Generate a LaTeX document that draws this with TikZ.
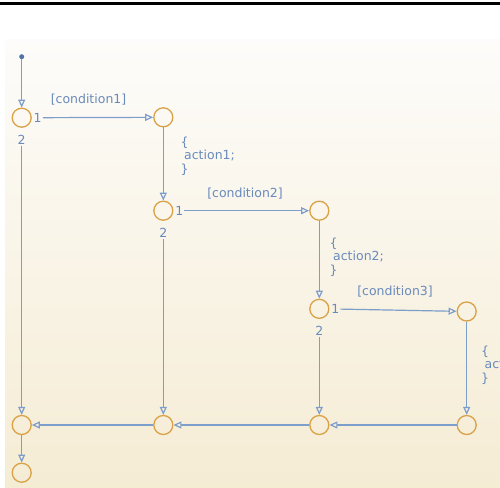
\documentclass[tikz,border=0pt]{standalone}
\usepackage{fontspec}
\setmainfont{DejaVu Sans}
\usetikzlibrary{arrows.meta}
\definecolor{lineblue}{RGB}{125,157,203}
\definecolor{textblue}{RGB}{105,138,188}
\definecolor{juncorange}{RGB}{218,162,72}
\definecolor{dotblue}{RGB}{80,115,170}
\definecolor{bgtop}{RGB}{253,252,250}
\definecolor{bgbot}{RGB}{245,236,212}
\tikzset{
  junc/.style={circle, draw=juncorange, line width=1.3pt, minimum size=19pt, inner sep=0pt},
  startdot/.style={circle, fill=dotblue, minimum size=5pt, inner sep=0pt},
  lbl/.style={text=textblue, inner sep=1pt, font=\fontsize{12.5}{14}\selectfont},
  actblock/.style={text=textblue, inner sep=0pt, anchor=west, align=left, font=\fontsize{12.5}{13.5}\selectfont},
  conn/.style={draw=lineblue, line width=1.2pt, -{Triangle[open,length=8pt,width=7pt]}}
}
\begin{document}
\begin{tikzpicture}[x=1pt,y=-1pt]
\useasboundingbox (0,0) rectangle (500,487);
\clip (0,0) rectangle (500,487);
\shade[top color=bgtop, bottom color=bgbot] (5,40) rectangle (500,487);
\fill[black] (0,1.8) rectangle (500,5);
% junctions
\node[startdot] (S) at (21.7,56.7) {};
\node[junc] (A1) at (21.7,117.7) {};
\node[junc] (B1) at (163.3,117.3) {};
\node[junc] (A2) at (163.3,210.7) {};
\node[junc] (B2) at (319.3,210.7) {};
\node[junc] (A3) at (319.3,308.8) {};
\node[junc] (B3) at (466.7,311.5) {};
\node[junc] (C0) at (21.7,425) {};
\node[junc] (C1) at (163.3,425) {};
\node[junc] (C2) at (319.3,425) {};
\node[junc] (C3) at (466.7,425) {};
\node[junc] (D) at (21.7,472.7) {};
% port labels
\node[lbl] (A1o) at (37.7,117.7) {1};
\node[lbl] (A1t) at (21.7,140) {2};
\node[lbl] (A2o) at (179.3,210.7) {1};
\node[lbl] (A2t) at (163.3,233.3) {2};
\node[lbl] (A3o) at (335.3,309) {1};
\node[lbl] (A3t) at (319.3,331) {2};
% condition labels
\node[lbl] (c1) at (88.5,100) {[condition1]};
\node[lbl] (c2) at (245,194) {[condition2]};
\node[lbl] (c3) at (395,291.5) {[condition3]};
% action labels
\node[actblock] (a1) at (180.5,156) {\{\\\hspace{3.5pt}action1;\\\}};
\node[actblock] (a2) at (329.5,257) {\{\\\hspace{3.5pt}action2;\\\}};
\node[actblock] (a3) at (481,365) {\{\\\hspace{3.5pt}action3;\\\}};
% connectors
\draw[conn] (S) -- (A1);
\draw[conn] (A1o) -- (B1);
\draw[conn] (B1) -- (A2);
\draw[conn] (A2o) -- (B2);
\draw[conn] (B2) -- (A3);
\draw[conn] (A3o) -- (B3);
\draw[conn] (B3) -- (C3);
\draw[conn] (A1t) -- (C0);
\draw[conn] (A2t) -- (C1);
\draw[conn] (A3t) -- (C2);
\draw[conn] (C3) -- (C2);
\draw[conn] (C2) -- (C1);
\draw[conn] (C1) -- (C0);
\draw[conn] (C0) -- (D);
\end{tikzpicture}
\end{document}
